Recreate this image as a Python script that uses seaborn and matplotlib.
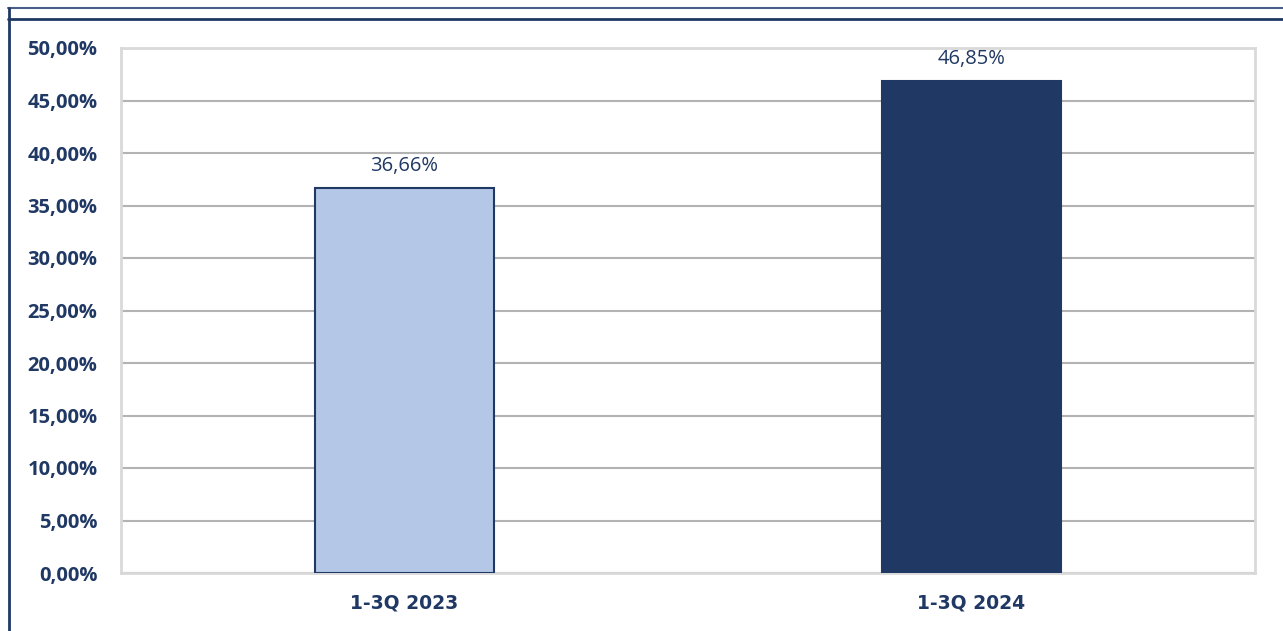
import pandas as pd
import matplotlib.pyplot as plt
import seaborn as sns
from matplotlib.lines import Line2D

# data
periods = ["1-3Q 2023", "1-3Q 2024"]
values = [36.66, 46.85]
bar_colors = ["#b4c7e7", "#203864"]
y_ticks = [0, 5, 10, 15, 20, 25, 30, 35, 40, 45, 50]

navy = "#203864"

df = pd.DataFrame({"period": periods, "value": values})

sns.set_style("white")
plt.rcParams["font.family"] = ["Open Sans", "DejaVu Sans"]

fig = plt.figure(figsize=(12.83, 6.31), dpi=100)
ax = fig.add_axes([121 / 1283, 58 / 631, (1255 - 121) / 1283, (573 - 48) / 631])

sns.barplot(data=df, x="period", y="value", hue="period", palette=bar_colors,
            saturation=1, width=0.315, legend=False, ax=ax, zorder=3)
for p in ax.patches:
    p.set_edgecolor(navy)
    p.set_linewidth(1.5)

ax.set_ylim(0, 50)
ax.set_xlim(-0.5, 1.5)
ax.set_yticks(y_ticks)
ax.set_yticklabels([f"{t:.2f}%".replace(".", ",") for t in y_ticks],
                   fontsize=14.5, fontweight="bold", color=navy)
ax.set_xticks(range(len(periods)))
ax.set_xticklabels(periods, fontsize=13.5, fontweight="bold", color=navy,
                   family=["DejaVu Sans"])
ax.tick_params(axis="y", length=0, pad=17)
ax.tick_params(axis="x", length=0, pad=15)
ax.set_xlabel("")
ax.set_ylabel("")

ax.yaxis.grid(True, color="#b3b3b3", linewidth=1.5, zorder=0)
for s in ax.spines.values():
    s.set_visible(True)
    s.set_color("#d9d9d9")
    s.set_linewidth(2)

for i, v in enumerate(values):
    ax.annotate(f"{v:.2f}%".replace(".", ","), (i, v), xytext=(0, 9),
                textcoords="offset points", ha="center", va="bottom",
                fontsize=14.5, color=navy)

# outer frame lines
fig.add_artist(Line2D([8 / 1283, 1], [1 - 8 / 631, 1 - 8 / 631],
                      transform=fig.transFigure, color="#4a5f8a", linewidth=1.5))
fig.add_artist(Line2D([8 / 1283, 1], [1 - 18.5 / 631, 1 - 18.5 / 631],
                      transform=fig.transFigure, color=navy, linewidth=2))
fig.add_artist(Line2D([9 / 1283, 9 / 1283], [0, 1 - 8 / 631],
                      transform=fig.transFigure, color=navy, linewidth=2))

fig.savefig("out.png", dpi=100)
